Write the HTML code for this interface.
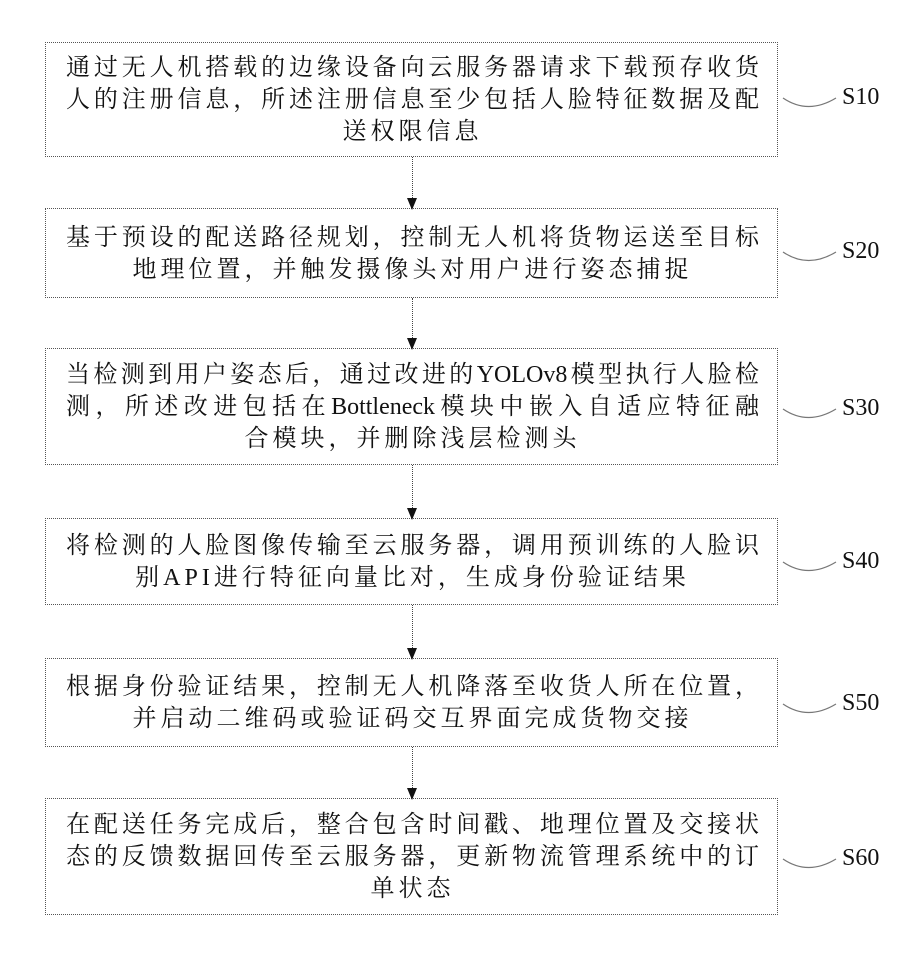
<!DOCTYPE html>
<html><head><meta charset="utf-8"><style>
body{margin:0;width:921px;height:972px;background:#fff;position:relative;overflow:hidden;font-family:"Liberation Serif","Noto Serif CJK SC",serif;color:#111}
.box{position:absolute;left:45px;width:733px;border:1.5px dotted #555;box-sizing:border-box}
.l{position:absolute;left:20px;right:18px;font-size:24px;line-height:32px;height:32px;text-align:justify;text-align-last:justify;white-space:nowrap}
.c{text-align-last:center;text-align:center;letter-spacing:4px}
.lab{position:absolute;left:842px;font-size:24px}
.arr{position:absolute;left:412px;width:1px;border-left:1.5px dotted #444}
.arr:after{content:"";position:absolute;left:-6px;bottom:-2px;border-left:5px solid transparent;border-right:5px solid transparent;border-top:12px solid #111}
svg{position:absolute;left:0;top:0}
</style></head><body>
<div class="box" style="top:42px;height:115px">
<div class="l" style="top:9px">通过无人机搭载的边缘设备向云服务器请求下载预存收货</div>
<div class="l" style="top:41px">人的注册信息，所述注册信息至少包括人脸特征数据及配</div>
<div class="l c" style="top:73px">送权限信息</div></div>
<div class="box" style="top:208px;height:90px">
<div class="l" style="top:13px">基于预设的配送路径规划，控制无人机将货物运送至目标</div>
<div class="l c" style="top:45px">地理位置，并触发摄像头对用户进行姿态捕捉</div></div>
<div class="box" style="top:348px;height:117px">
<div class="l" style="top:10px">当检测到用户姿态后，通过改进的YOLOv8模型执行人脸检</div>
<div class="l" style="top:42px">测，所述改进包括在Bottleneck模块中嵌入自适应特征融</div>
<div class="l c" style="top:74px">合模块，并删除浅层检测头</div></div>
<div class="box" style="top:518px;height:87px">
<div class="l" style="top:11px">将检测的人脸图像传输至云服务器，调用预训练的人脸识</div>
<div class="l c" style="top:43px">别API进行特征向量比对，生成身份验证结果</div></div>
<div class="box" style="top:658px;height:89px">
<div class="l" style="top:12px">根据身份验证结果，控制无人机降落至收货人所在位置，</div>
<div class="l c" style="top:44px">并启动二维码或验证码交互界面完成货物交接</div></div>
<div class="box" style="top:798px;height:117px">
<div class="l" style="top:10px">在配送任务完成后，整合包含时间戳、地理位置及交接状</div>
<div class="l" style="top:42px">态的反馈数据回传至云服务器，更新物流管理系统中的订</div>
<div class="l c" style="top:74px">单状态</div></div>
<div class="arr" style="top:157px;height:51px"></div>
<div class="arr" style="top:298px;height:50px"></div>
<div class="arr" style="top:465px;height:53px"></div>
<div class="arr" style="top:605px;height:53px"></div>
<div class="arr" style="top:747px;height:51px"></div>
<div class="lab" style="top:84px">S10</div>
<div class="lab" style="top:238px">S20</div>
<div class="lab" style="top:395px">S30</div>
<div class="lab" style="top:548px">S40</div>
<div class="lab" style="top:690px">S50</div>
<div class="lab" style="top:845px">S60</div>
<svg width="921" height="972" fill="none" stroke="#777" stroke-width="1.2">
<path d="M783 98 Q808 115 836 98"/>
<path d="M783 252 Q808 269 836 252"/>
<path d="M783 409 Q808 426 836 409"/>
<path d="M783 562 Q808 579 836 562"/>
<path d="M783 704 Q808 721 836 704"/>
<path d="M783 859 Q808 876 836 859"/>
</svg>
</body></html>
